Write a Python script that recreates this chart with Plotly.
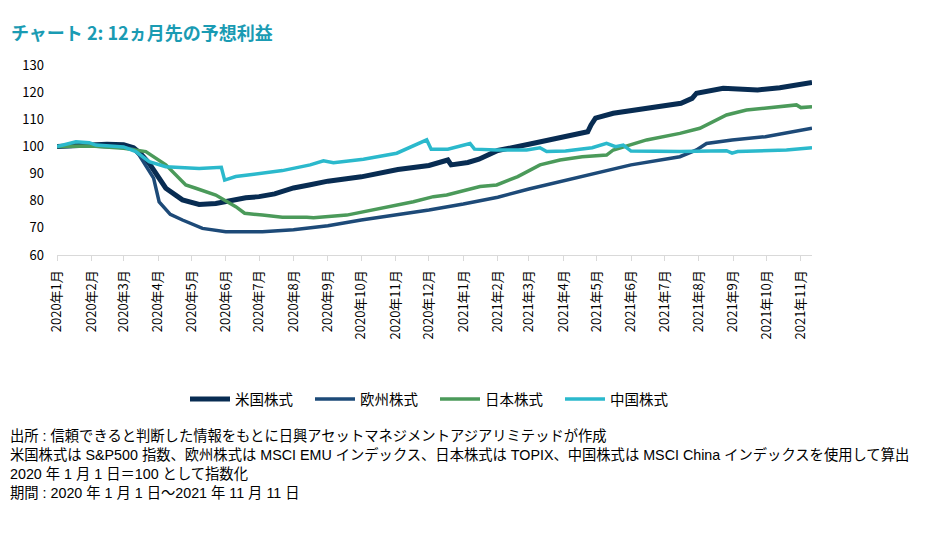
import plotly.graph_objects as go

# ---- data ----
us_dates = ["2020-01-01","2020-01-15","2020-02-01","2020-02-15","2020-03-01","2020-03-10","2020-03-16","2020-03-24",
            "2020-04-08","2020-04-23","2020-05-08","2020-05-23","2020-06-19","2020-07-01",
            "2020-07-15","2020-08-01","2020-08-15","2020-09-01","2020-10-01","2020-11-03","2020-12-01","2020-12-18",
            "2020-12-21","2021-01-05","2021-01-15","2021-02-01","2021-03-01","2021-04-01",
            "2021-04-23","2021-04-26","2021-04-30","2021-05-16","2021-06-15","2021-07-16","2021-07-26","2021-07-30",
            "2021-08-23","2021-09-23","2021-10-13","2021-11-11"]
us_values = [100,100.3,100.6,100.8,100.6,99.5,97.5,93.8,
             84.6,80.3,78.6,79.0,81.1,81.5,
             82.5,84.7,85.8,87.2,88.8,91.5,93.0,95.0,
             93.2,94.1,95.3,98.5,100.8,103.3,
             105.4,107.9,110.4,112.2,114.0,115.9,117.7,119.6,
             121.4,120.8,121.6,123.6]

eu_dates = ["2020-01-01","2020-02-01","2020-03-01","2020-03-10","2020-03-15","2020-03-22","2020-03-28","2020-04-02",
            "2020-04-12","2020-04-23","2020-05-11","2020-06-01","2020-07-04","2020-08-01","2020-08-12","2020-09-01",
            "2020-10-01","2020-11-01","2020-12-01","2021-01-01","2021-02-01","2021-03-01","2021-04-01","2021-05-01",
            "2021-06-01","2021-07-15","2021-07-30","2021-08-08","2021-08-31","2021-09-30","2021-10-28",
            "2021-11-11"]
eu_values = [100,100.2,99.6,99,96.8,92.5,88.3,79.6,
             75.0,72.9,69.8,68.6,68.6,69.3,69.8,70.8,
             72.9,74.7,76.6,78.8,81.3,84.3,87.3,90.5,
             93.2,96.2,98.7,101.1,102.4,103.6,105.8,
             106.7]

jp_dates = ["2020-01-01","2020-02-01","2020-03-01","2020-03-10","2020-03-21","2020-04-08","2020-04-26",
            "2020-05-05","2020-05-23","2020-06-10","2020-06-18","2020-07-04","2020-07-22","2020-08-13","2020-08-19",
            "2020-09-18","2020-10-18","2020-11-17","2020-12-05","2020-12-17","2021-01-16","2021-01-31","2021-02-19",
            "2021-03-11","2021-03-29","2021-04-18","2021-05-10","2021-05-16","2021-06-15","2021-07-15",
            "2021-08-02","2021-08-26","2021-09-13","2021-10-13","2021-10-28","2021-11-01","2021-11-11"]
jp_values = [100,100.2,99.3,98.8,98.1,93.2,85.8,
             84.6,82.1,77.8,75.4,74.7,73.9,73.9,73.7,
             74.7,77.2,79.6,81.5,82.1,85.2,85.8,88.9,
             93.2,95.0,96.2,96.8,98.7,102.4,104.8,
             106.7,111.6,113.4,114.6,115.3,114.3,114.6]

cn_dates = ["2020-01-01","2020-01-10","2020-01-18","2020-01-30","2020-02-05","2020-03-01","2020-03-12","2020-03-24",
            "2020-04-08","2020-05-08","2020-05-28","2020-05-31","2020-06-10","2020-06-21","2020-07-22",
            "2020-08-16","2020-08-28","2020-09-06","2020-10-03","2020-11-02","2020-11-17","2020-11-29","2020-12-03",
            "2020-12-18","2021-01-07","2021-01-11","2021-01-31","2021-02-27","2021-03-11","2021-03-17","2021-04-03",
            "2021-04-27","2021-05-10","2021-05-18","2021-05-25","2021-06-01","2021-07-15","2021-08-26",
            "2021-08-31","2021-09-05","2021-10-19","2021-11-11"]
cn_values = [100,100.8,101.7,101.4,100.5,99.8,98.1,94.4,
             92.5,91.9,92.3,87.6,88.9,89.5,91.1,
             93.2,94.7,94.0,95.3,97.5,100.2,102.4,99.0,
             99.0,101.1,99.0,98.7,98.7,99.5,98.1,98.3,
             99.5,101.1,99.9,100.5,98.3,98.1,98.4,
             97.5,98.1,98.7,99.5]

series_names = ["米国株式", "欧州株式", "日本株式", "中国株式"]
y_ticks = [60, 70, 80, 90, 100, 110, 120, 130]

title_text = "チャート 2: 12ヵ月先の予想利益"
notes = [
    "出所 : 信頼できると判断した情報をもとに日興アセットマネジメントアジアリミテッドが作成",
    "米国株式は S&P500 指数、欧州株式は MSCI EMU インデックス、日本株式は TOPIX、中国株式は MSCI China インデックスを使用して算出",
    "2020 年 1 月 1 日＝100 として指数化",
    "期間 : 2020 年 1 月 1 日～2021 年 11 月 11 日",
]

colors = ["#082c52", "#1d4a78", "#4b9a5a", "#2bb9cc"]
widths = [5, 3.5, 3.5, 3.5]

FONT = "Noto Sans CJK JP, Noto Sans, sans-serif"
NOTE_FONT = "Liberation Sans, Noto Sans CJK JP, sans-serif"

fig = go.Figure()
for name, xs, ys, c, w in zip(series_names,
                              [us_dates, eu_dates, jp_dates, cn_dates],
                              [us_values, eu_values, jp_values, cn_values],
                              colors, widths):
    fig.add_trace(go.Scatter(x=xs, y=ys, name=name, mode="lines",
                             line=dict(color=c, width=w)))

fig.update_layout(
    width=941, height=541,
    margin=dict(l=57, r=129, t=65, b=286),
    paper_bgcolor="white", plot_bgcolor="white",
    font=dict(family=FONT, size=12, color="#000000"),
    showlegend=True,
    legend=dict(orientation="h", xref="container", yref="container",
                x=435 / 941, y=1 - 399 / 541, xanchor="center", yanchor="middle",
                font=dict(size=14.5, color="#000000"),
                entrywidth=70, entrywidthmode="pixels", itemwidth=40),
)

fig.update_xaxes(
    type="date", range=["2020-01-01", "2021-11-11"],
    dtick="M1", tick0="2020-01-01", tickformat="%Y年%-m月",
    tickangle=-90, tickfont=dict(size=13, color="#000000"),
    showgrid=False, zeroline=False,
    showline=True, linecolor="#d9d9d9", linewidth=1,
    ticks="outside", ticklen=5, tickcolor="#d9d9d9",
    ticklabelstandoff=4,
)
fig.update_yaxes(
    range=[60, 130], tickvals=y_ticks,
    tickfont=dict(size=13, color="#000000"),
    showgrid=False, zeroline=False, showline=False,
    ticklabelstandoff=12,
)

fig.add_annotation(text="<b>" + title_text + "</b>", xref="paper", yref="paper",
                   x=(9 - 57) / 755, y=(255 - 32) / 190, xanchor="left", yanchor="middle",
                   showarrow=False, font=dict(size=18, color="#1a9bb3", family=FONT))

for t, yc in zip(notes, [436, 455, 474, 493]):
    fig.add_annotation(text=t, xref="paper", yref="paper",
                       x=(8 - 57) / 755, y=(255 - yc) / 190, xanchor="left", yanchor="middle",
                       align="left", showarrow=False,
                       font=dict(size=14.3, color="#000000", family=NOTE_FONT))

fig.write_html("out.html", config={"displayModeBar": False},
               post_script="document.body.style.margin='0px';")
